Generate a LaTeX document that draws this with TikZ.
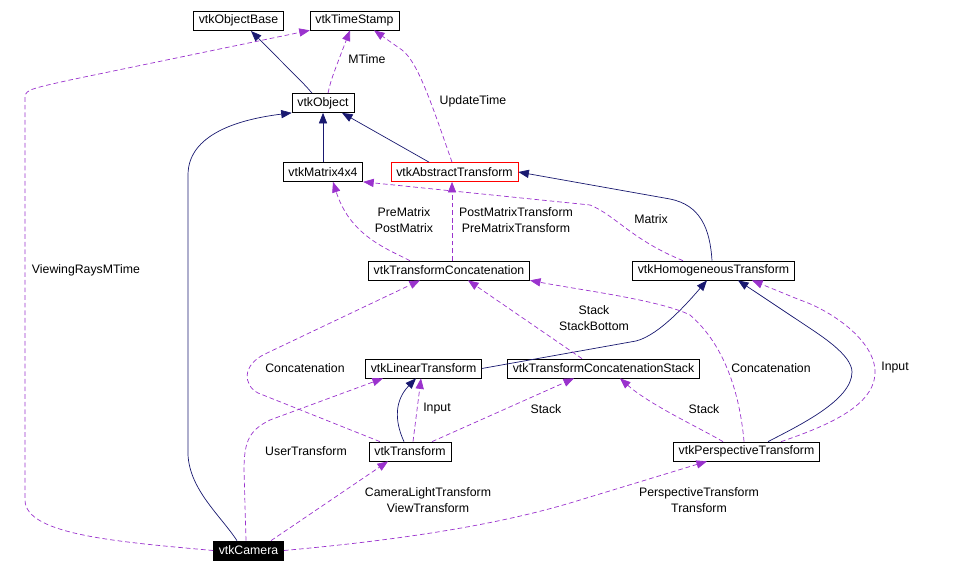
\documentclass[tikz,border=0pt]{standalone}
\usepackage{fontspec}
\setmainfont{Liberation Sans}
\usetikzlibrary{arrows.meta}
\definecolor{navy}{HTML}{191970}
\definecolor{orchid}{HTML}{9A32CD}

\begin{document}
\begin{tikzpicture}[x=0.03cm,y=-0.03cm,
    cls/.style={draw,fill=white,line width=0.6pt,inner xsep=4.5pt,inner ysep=0pt,minimum height=0.57cm,font=\fontsize{10.5pt}{12pt}\selectfont},
    inherit/.style={navy,line width=0.6pt,-{Triangle[length=9pt,width=7pt]}},
    uses/.style={orchid,line width=0.6pt,dash pattern=on 4pt off 2.5pt,-{Triangle[length=9pt,width=7pt]}},
    lbl/.style={font=\fontsize{10.5pt}{13.6pt}\selectfont,align=center,inner sep=0pt}]
    \useasboundingbox (0,0) rectangle (980,573);
    % classes
    \node[cls] (objbase) at (238.5,20.5) {vtkObjectBase};
    \node[cls] (timestamp) at (354.5,20.5) {vtkTimeStamp};
    \node[cls] (object) at (323,103) {vtkObject};
    \node[cls] (matrix) at (323,172) {vtkMatrix4x4};
    \node[cls,draw=red] (abstract) at (454.5,172) {vtkAbstractTransform};
    \node[cls] (concat) at (449,270.5) {vtkTransformConcatenation};
    \node[cls] (homog) at (713.5,270.5) {vtkHomogeneousTransform};
    \node[cls] (linear) at (423.5,368.5) {vtkLinearTransform};
    \node[cls] (stack) at (603.5,368.5) {vtkTransformConcatenationStack};
    \node[cls] (transform) at (410,451.5) {vtkTransform};
    \node[cls] (persp) at (746.5,451.5) {vtkPerspectiveTransform};
    \node[cls,fill=black,text=white] (camera) at (248.5,550.5) {vtkCamera};
    % inheritance
    \draw[inherit] (object.north -| 312,0) .. controls (306,86) .. (251,31);
    \draw[inherit] (matrix.north) -- (object.south);
    \draw[inherit] (abstract.north -| 429,0) -- (object.south -| 342,0);
    \draw[inherit] (camera.north -| 237,0) .. controls (220,515) and (190,490) .. (188,455)
        -- (188,175) .. controls (188,130) and (250,118) .. (object.south west);
    \draw[inherit] (homog.north -| 712,0) .. controls (710,228) and (700,205) .. (670,199)
        -- (abstract.east);
    \draw[inherit] (linear.east) -- (636,341) .. controls (660,335) and (690,300) .. (homog.south -| 707,0);
    \draw[inherit] (transform.north -| 404,0) .. controls (394,420) and (395,400) .. (linear.south -| 416,0);
    \draw[inherit] (persp.north -| 768,0) .. controls (800,425) and (852,400) .. (852,372)
        .. controls (852,355) and (820,335) .. (805,325) -- (homog.south -| 738,0);
    % usage
    \draw[uses] (object.north -| 328,0) .. controls (331,80) .. (timestamp.south -| 350,0);
    \node[lbl] (lmtime) at (367,59) {MTime};
    \draw[uses] (camera.west) .. controls (120,542) and (25,535) .. (25,500)
        -- (25,100) .. controls (25,90) .. (70,80) -- (timestamp.south west);
    \node[lbl] (lviewing) at (86,270) {ViewingRaysMTime};
    \draw[uses] (abstract.north -| 452,0) .. controls (432,105) and (418,62) .. (402,50) -- (timestamp.south -| 374,0);
    \node[lbl] (lupdate) at (473,101) {UpdateTime};
    \draw[uses] (homog.north -| 683,0) .. controls (632,240) and (615,215) .. (590,205) -- (matrix.south east);
    \node[lbl] (lmatrix) at (651,219) {Matrix};
    \draw[uses] (concat.north -| 410,0) .. controls (385,248) and (350,235) .. (matrix.south -| 333,0);
    \node[lbl] (lprepost) at (404,220) {PreMatrix\\PostMatrix};
    \draw[uses] (concat.north -| 452,0) -- (abstract.south -| 452,0);
    \node[lbl] (lpostpre) at (516,220) {PostMatrixTransform\\PreMatrixTransform};
    \draw[uses] (stack.north -| 582,0) -- (concat.south -| 468,0);
    \node[lbl] (lstackbot) at (594,318) {Stack\\StackBottom};
    \draw[uses] (transform.north -| 380,0) -- (258,393) .. controls (243,385) and (242,365) .. (265,354)
        -- (concat.south -| 420,0);
    \node[lbl] (lconcat) at (305,368) {Concatenation};
    \draw[uses] (transform.north -| 413,0) -- (linear.south -| 421,0);
    \node[lbl] (linput) at (437,409) {Input};
    \draw[uses] (transform.north -| 432,0) -- (stack.south -| 574,0);
    \node[lbl] (lstack) at (546,409) {Stack};
    \draw[uses] (persp.north -| 723,0) .. controls (700,428) and (650,405) .. (stack.south -| 620,0);
    \node[lbl] (lstackp) at (704,409) {Stack};
    \draw[uses] (persp.north -| 744,0) .. controls (740,395) and (725,345) .. (690,315)
        .. controls (660,300) and (580,290) .. (concat.south east);
    \node[lbl] (lconcatp) at (771,368) {Concatenation};
    \draw[uses] (persp.north -| 781,0) .. controls (830,425) and (875,405) .. (875,372)
        .. controls (875,340) and (830,310) .. (800,300) -- (homog.south -| 752,0);
    \node[lbl] (linputp) at (895,368) {Input};
    \draw[uses] (camera.north -| 246,0) -- (244,470) .. controls (244,440) and (250,430) .. (270,420)
        -- (linear.south -| 383,0);
    \node[lbl] (luser) at (306,451) {UserTransform};
    \draw[uses] (camera.north -| 271,0) -- (transform.south -| 388,0);
    \node[lbl] (lview) at (428,500) {CameraLightTransform\\ViewTransform};
    \draw[uses] (camera.east) .. controls (400,540) and (500,525) .. (580,500) -- (persp.south -| 707,0);
    \node[lbl] (lpersp) at (699,500) {PerspectiveTransform\\Transform};
\end{tikzpicture}
\end{document}
